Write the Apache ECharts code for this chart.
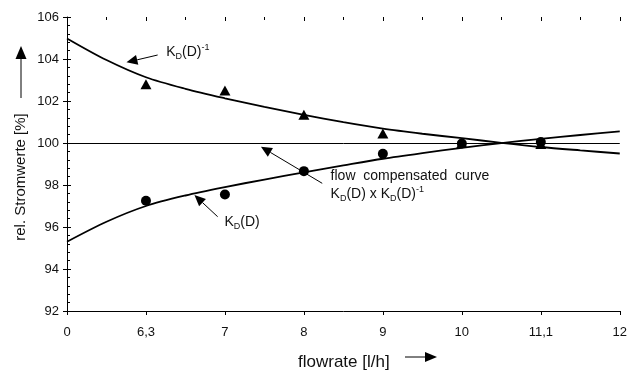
<!DOCTYPE html>
<html>
<head>
<meta charset="utf-8">
<script src="https://cdn.jsdelivr.net/npm/echarts@6/dist/echarts.min.js"></script>
<style>
html,body{margin:0;padding:0;background:#fff}
#main{width:630px;height:370px}
</style>
</head>
<body>
<div id="main"></div>
<script>
// tick labels sit at equal steps, so x is the tick index
var xTickLabels=['0','6,3','7','8','9','10','11,1','12'];

// measured points (x = tick index)
var pointPos=[1,2,3,4,5,6];
var kdInvPoints=[102.8,102.5,101.35,100.45,100.0,99.95];
var kdPoints=[97.25,97.55,98.66,99.49,99.98,100.05];

// fitted curves, read every half step
var curvePos=[0,0.5,1,1.5,2,2.5,3,3.5,4,4.5,5,5.5,6,6.5,7];
var kdInvCurve=[104.98,103.95,103.13,102.58,102.13,101.72,101.34,100.99,100.68,100.44,100.23,100.01,99.81,99.65,99.5];
var kdCurve=[95.3,96.25,97.0,97.5,97.9,98.26,98.6,98.93,99.25,99.52,99.77,99.99,100.2,100.38,100.55];

var font='"Liberation Sans", Arial, sans-serif';
var ink='#111';

function pairs(xs,ys){
	var out=[];
	for(var i=0;i<xs.length;i++){out.push([xs[i],ys[i]]);}
	return out;
}

var rich={
	n:{fontSize:14,fontFamily:font,color:ink,lineHeight:18},
	sub:{fontSize:9,fontFamily:font,color:ink,verticalAlign:'bottom'},
	sup:{fontSize:9,fontFamily:font,color:ink,verticalAlign:'top'}
};

var chart=echarts.init(document.getElementById('main'));

var axisX={
	type:'value',min:0,max:7,interval:1,
	axisLine:{show:true,onZero:false,lineStyle:{color:'#000',width:1}},
	splitLine:{show:false}
};
var axisY={
	type:'value',min:92,max:106,interval:2,
	axisLine:{show:true,onZero:false,lineStyle:{color:'#000',width:1}},
	splitLine:{show:false}
};

var option={
	animation:false,
	backgroundColor:'#fff',
	grid:{left:67,right:8,top:17,bottom:59}
};

option.xAxis=[
	Object.assign({},axisX,{
		axisTick:{show:true,inside:false,length:4,lineStyle:{color:'#000'}},
		axisLabel:{margin:15,fontSize:13,fontFamily:font,color:ink,
			formatter:function(v){return xTickLabels[Math.round(v)];}}
	}),
	Object.assign({},axisX,{
		axisLine:{show:false},
		axisTick:{show:true,inside:true,length:4,lineStyle:{color:'#000'}},
		minorTick:{show:true,splitNumber:2,length:3,lineStyle:{color:'#000'}},
		axisLabel:{show:false}
	})
];
option.yAxis=[
	Object.assign({},axisY,{
		axisTick:{show:true,inside:false,length:4,lineStyle:{color:'#000'}},
		axisLabel:{margin:8,fontSize:13,fontFamily:font,color:ink}
	}),
	Object.assign({},axisY,{
		position:'left',
		axisLine:{show:false},
		axisTick:{show:true,inside:true,length:4,lineStyle:{color:'#000'}},
		minorTick:{show:true,splitNumber:5,length:3,lineStyle:{color:'#000'}},
		axisLabel:{show:false}
	})
];

option.series=[
	{
		type:'line',data:pairs(curvePos,kdInvCurve),smooth:0.3,
		showSymbol:false,symbol:'none',lineStyle:{color:'#000',width:1.8},silent:true,
		markLine:{silent:true,symbol:'none',label:{show:false},
			lineStyle:{color:'#000',width:1,type:'solid'},data:[{yAxis:100}]}
	},
	{
		type:'line',data:pairs(curvePos,kdCurve),smooth:0.3,
		showSymbol:false,symbol:'none',lineStyle:{color:'#000',width:1.8},silent:true
	},
	{
		type:'scatter',data:pairs(pointPos,kdInvPoints),symbol:'triangle',symbolSize:[11,10],
		itemStyle:{color:'#000',opacity:1}
	},
	{
		type:'scatter',data:pairs(pointPos,kdPoints),symbol:'circle',symbolSize:10,
		itemStyle:{color:'#000',opacity:1}
	}
];

chart.setOption(option);

// arrow + head, coordinates in px
function arrow(tail,tip,len,half){
	var dx=tip[0]-tail[0],dy=tip[1]-tail[1];
	var d=Math.sqrt(dx*dx+dy*dy);
	var ux=dx/d,uy=dy/d;
	var bx=tip[0]-ux*len,by=tip[1]-uy*len;
	return [
		{type:'line',silent:true,shape:{x1:tail[0],y1:tail[1],x2:bx,y2:by},style:{stroke:'#000',lineWidth:1}},
		{type:'polygon',silent:true,shape:{points:[tip,[bx-uy*half,by+ux*half],[bx+uy*half,by-ux*half]]},style:{fill:'#000'}}
	];
}
function px(p){return chart.convertToPixel({gridIndex:0},p);}

// annotations in data coords: tail, tip, text anchor
var notes=[
	{tail:[1.148,104.19],tip:[0.753,103.84],at:[1.257,104.35],
		text:'{n|K}{sub|D}{n|(D)}{sup|-1}'},
	{tail:[1.908,96.49],tip:[1.614,97.52],at:[1.993,96.25],
		text:'{n|K}{sub|D}{n|(D)}'},
	{tail:[3.232,98.08],tip:[2.456,99.82],at:[3.338,98.0],
		text:'{n|flow  compensated  curve}\n{n|K}{sub|D}{n|(D) x K}{sub|D}{n|(D)}{sup|-1}'}
];

var g=[];
notes.forEach(function(o){
	g=g.concat(arrow(px(o.tail),px(o.tip),11,5));
	var p=px(o.at);
	g.push({type:'text',silent:true,x:p[0],y:p[1],
		style:{text:o.text,rich:rich,verticalAlign:'middle',align:'left',font:'14px '+font,fill:ink}});
});

// axis titles with their arrows
g.push({type:'text',silent:true,x:21,y:177,rotation:Math.PI/2,
	style:{text:'rel. Stromwerte [%]',font:'15px '+font,fill:ink,align:'center',verticalAlign:'middle'}});
g=g.concat(arrow([21,98],[21,46],13,5.5));
g.push({type:'text',silent:true,x:298,y:362,
	style:{text:'flowrate [l/h]',font:'17px '+font,fill:ink,align:'left',verticalAlign:'middle'}});
g=g.concat(arrow([405,357],[437,357],12,5));

chart.setOption({graphic:g});
</script>
</body>
</html>
